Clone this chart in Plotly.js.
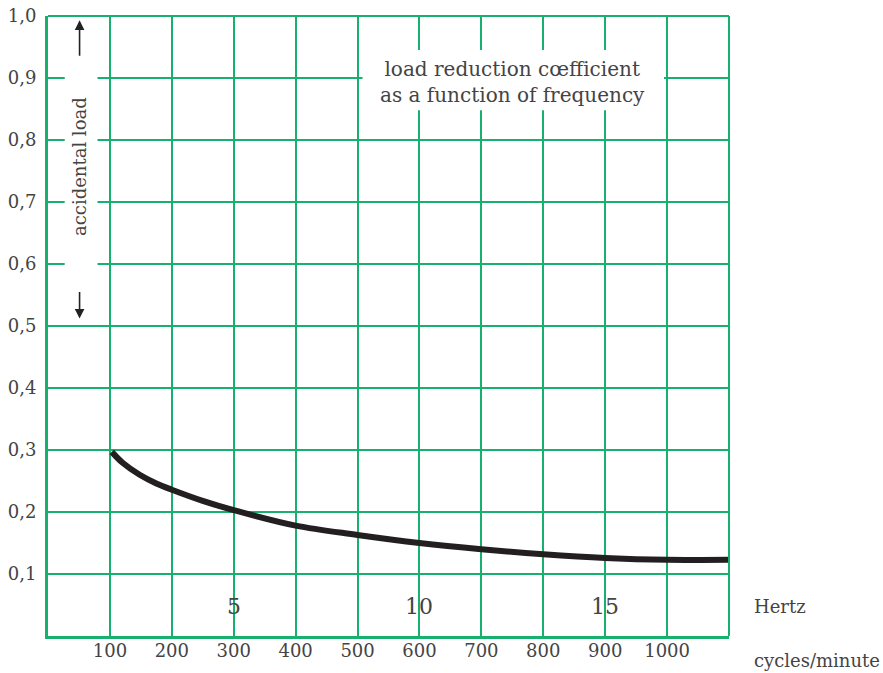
<!DOCTYPE html>
<html>
<head>
<meta charset="utf-8">
<script src="https://cdn.plot.ly/plotly-3.0.1.min.js"></script>
<style>html,body{margin:0;padding:0;background:#fff;}#chart{width:883px;height:673px;}</style>
</head>
<body>
<div id="chart"></div>
<script>
// Data
var cyclesPerMinute = [103, 121, 148, 175, 200, 250, 300, 400, 500, 600, 700, 800, 900, 1000, 1100];
var loadCoefficient = [0.297, 0.279, 0.260, 0.246, 0.236, 0.218, 0.203, 0.178, 0.163, 0.150, 0.140, 0.132, 0.126, 0.123, 0.123];
var xTickVals = [100, 200, 300, 400, 500, 600, 700, 800, 900, 1000];
var xTickText = ["100", "200", "300", "400", "500", "600", "700", "800", "900", "1000"];
var yTickVals = [0.1, 0.2, 0.3, 0.4, 0.5, 0.6, 0.7, 0.8, 0.9, 1.0];
var yTickText = ["0,1", "0,2", "0,3", "0,4", "0,5", "0,6", "0,7", "0,8", "0,9", "1,0"];
var hertzLabels = ["5", "10", "15"];
var hertzPositions = [300, 600, 900];

var GREEN = '#17b06e';
var FONT = 'DejaVu Serif';
var TXT = '#444';

var trace = {
  x: cyclesPerMinute,
  y: loadCoefficient,
  mode: 'lines',
  line: {color: '#231f20', width: 6, shape: 'spline', smoothing: 1},
  hoverinfo: 'skip'
};

var annotations = [];
for (var i = 0; i < hertzLabels.length; i++) {
  annotations.push({
    x: hertzPositions[i], y: 0.048, xref: 'x', yref: 'y',
    text: hertzLabels[i], showarrow: false,
    font: {family: FONT, size: 22, color: TXT}
  });
}
annotations.push({
  x: 1.034, y: 0.048, xref: 'paper', yref: 'paper', xanchor: 'left', yanchor: 'middle',
  text: 'Hertz', showarrow: false, font: {family: FONT, size: 18, color: TXT}
});
annotations.push({
  x: 1.034, y: -0.039, xref: 'paper', yref: 'paper', xanchor: 'left', yanchor: 'middle',
  text: 'cycles/minute', showarrow: false, font: {family: FONT, size: 18, color: TXT}
});
annotations.push({
  x: 750, y: 0.894, xref: 'x', yref: 'y',
  text: 'load reduction cœfficient<br>as a function of frequency',
  showarrow: false, font: {family: FONT, size: 20, color: TXT}
});
annotations.push({
  x: 50, y: 0.758, xref: 'x', yref: 'y', textangle: -90,
  text: 'accidental load', showarrow: false,
  font: {family: FONT, size: 18, color: TXT}
});
annotations.push({
  x: 51, y: 0.993, xref: 'x', yref: 'y', ax: 0, ay: 37, axref: 'pixel', ayref: 'pixel',
  text: '', showarrow: true, arrowhead: 2, arrowsize: 1.2, arrowwidth: 1.6, arrowcolor: '#222'
});
annotations.push({
  x: 51, y: 0.512, xref: 'x', yref: 'y', ax: 0, ay: -28, axref: 'pixel', ayref: 'pixel',
  text: '', showarrow: true, arrowhead: 2, arrowsize: 1.2, arrowwidth: 1.6, arrowcolor: '#222'
});

var shapes = [
  {type: 'rect', xref: 'x', yref: 'y', x0: 508, x1: 995, y0: 0.848, y1: 0.945,
   fillcolor: '#fff', line: {width: 0}, layer: 'above'},
  {type: 'rect', xref: 'x', yref: 'y', x0: 27, x1: 80, y0: 0.518, y1: 0.995,
   fillcolor: '#fff', line: {width: 0}, layer: 'above'},
  {type: 'line', xref: 'paper', yref: 'paper', x0: 0, x1: 1, y0: 1, y1: 1,
   line: {color: GREEN, width: 2}, layer: 'above'},
  {type: 'line', xref: 'paper', yref: 'paper', x0: 1, x1: 1, y0: 0, y1: 1,
   line: {color: GREEN, width: 2}, layer: 'above'}
];

var layout = {
  width: 883, height: 673,
  margin: {l: 48, r: 154, t: 16, b: 37, pad: 0},
  paper_bgcolor: '#fff', plot_bgcolor: '#fff',
  showlegend: false,
  xaxis: {
    range: [0, 1100], tickvals: xTickVals, ticktext: xTickText,
    showgrid: true, gridcolor: GREEN, gridwidth: 2,
    showline: true, linecolor: GREEN, linewidth: 3,
    zeroline: false, ticks: '', ticklabelstandoff: -4,
    tickfont: {family: FONT, size: 18, color: TXT}, fixedrange: true
  },
  yaxis: {
    range: [0, 1.0], tickvals: yTickVals, ticktext: yTickText,
    showgrid: true, gridcolor: GREEN, gridwidth: 2,
    showline: true, linecolor: GREEN, linewidth: 3,
    zeroline: false, ticks: '', ticklabelstandoff: 5,
    tickfont: {family: FONT, size: 18, color: TXT}, fixedrange: true
  },
  annotations: annotations,
  shapes: shapes
};

Plotly.newPlot('chart', [trace], layout, {displayModeBar: false, staticPlot: true});
</script>
</body>
</html>
